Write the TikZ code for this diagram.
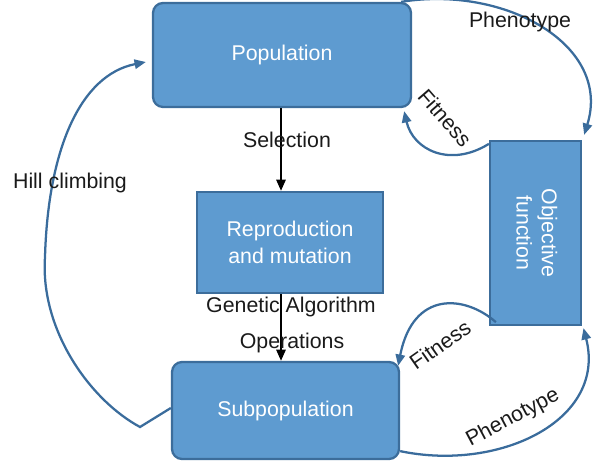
\documentclass[tikz,border=0pt]{standalone}
\usepackage{fontspec}
\setmainfont{Liberation Sans}
\usetikzlibrary{arrows.meta}
\definecolor{boxfill}{HTML}{5E9BD0}
\definecolor{boxline}{HTML}{3C6D9B}
\definecolor{linkblue}{HTML}{3A6C9C}
\definecolor{txt}{HTML}{1A1A1A}
\begin{document}
\begin{tikzpicture}[x=0.75pt,y=-0.75pt,
  box/.style={draw=boxline,fill=boxfill,line width=1.7pt,text=white,inner sep=0pt,
    align=center,font=\fontsize{16}{20}\selectfont},
  roundbox/.style={box,rounded corners=7.5pt},
  link/.style={draw=linkblue,line width=1.7pt,-{Triangle[length=8.5pt,width=7pt]}},
  flow/.style={draw=black,line width=1.6pt,-{Triangle[length=8.5pt,width=7pt]}},
  lbl/.style={text=txt,inner sep=0pt,font=\fontsize{16}{20}\selectfont}]
\useasboundingbox (0,0) rectangle (599,466);

% boxes
\node[roundbox,minimum width=193.5pt,minimum height=78pt] (pop) at (282,55) {Population};
\node[box,minimum width=139.5pt,minimum height=75.75pt] (rep) at (290,242.5) {Reproduction\\and mutation};
\node[roundbox,minimum width=170.25pt,minimum height=72.75pt] (sub) at (285.5,410.5) {Subpopulation};
\node[box,minimum width=68.25pt,minimum height=138pt] (obj) at (535.5,233) {};
\node[text=white,inner sep=0pt,align=center,rotate=-90,font=\fontsize{16}{19}\selectfont]
  (objtext) at ([xshift=1pt]obj.center) {Objective\\function};

% genetic algorithm flow
\draw[flow] (pop.south -| 281,0) -- (rep.north -| 281,0);
\draw[flow] (rep.south -| 281,0) -- (sub.north -| 281,0);
\node[lbl] (sel) at (287,140) {Selection};
\node[lbl] (ga) at (291,307) {Genetic Algorithm};
\node[lbl] (ops) at (292,343) {Operations};

% evaluation loops
\draw[link] ([xshift=-8.25pt]pop.north east)
  .. controls (505,-15) and (612,45) .. ([xshift=1.5pt,yshift=3.75pt]obj.north east);
\node[lbl] (phtop) at (520,22) {Phenotype};

\draw[link] ([yshift=-3pt]obj.north west)
  .. controls (450,168) and (413,150) .. ([xshift=-6pt,yshift=-2.25pt]pop.south east);
\node[lbl,rotate=-49] (fittop) at (445,118) {Fitness};

\draw[link] ([xshift=5.25pt,yshift=3pt]obj.south west)
  .. controls (465,295) and (413,290) .. ([xshift=-1.5pt,yshift=-3.75pt]sub.north east);
\node[lbl,rotate=35] (fitbot) at (440,345) {Fitness};

\draw[link] ([yshift=6.75pt]sub.south east)
  .. controls (500,472) and (607,420) .. ([xshift=1pt,yshift=-1.5pt]obj.south east);
\node[lbl,rotate=28] (phbot) at (513,418) {Phenotype};

% hill climbing
\draw[link] ([yshift=1.9pt]sub.west) -- (140,427)
  .. controls (90,400) and (40,330) .. (45,257)
  .. controls (48,150) and (80,75) .. ([xshift=-4.5pt,yshift=-5.25pt]pop.west);
\node[lbl] (hill) at (70,183) {Hill climbing};
\end{tikzpicture}
\end{document}
